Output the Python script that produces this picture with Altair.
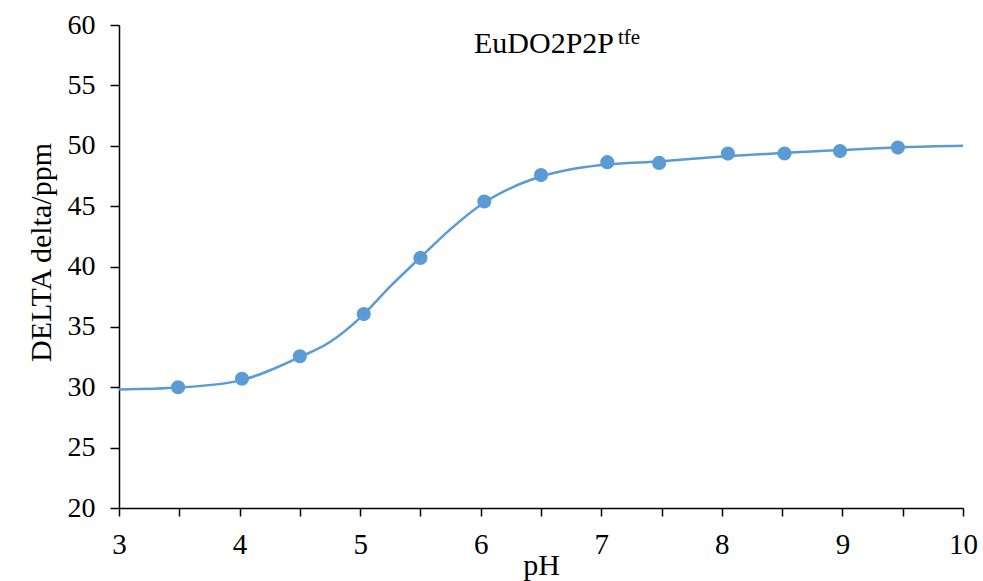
import altair as alt
import pandas as pd

# measured points
ph_points = [3.49, 4.02, 4.50, 5.03, 5.50, 6.03, 6.50, 7.05, 7.48, 8.05, 8.52, 8.98, 9.46]
delta_points = [30.0, 30.7, 32.57, 36.06, 40.71, 45.38, 47.57, 48.64, 48.58, 49.35, 49.36, 49.56, 49.85]

# fitted curve
ph_curve = [3.0, 3.5, 4.0, 4.5, 4.75, 5.0, 5.25, 5.5, 5.75, 6.0, 6.25, 6.5, 6.75, 7.0, 7.5, 8.0, 8.5, 9.0, 9.5, 10.0]
delta_curve = [29.82, 29.98, 30.55, 32.5, 33.75, 35.75, 38.35, 40.75, 43.1, 45.1, 46.5, 47.45, 48.05, 48.4, 48.72, 49.1, 49.4, 49.65, 49.88, 50.0]

x_ticks = [3, 3.5, 4, 4.5, 5, 5.5, 6, 6.5, 7, 7.5, 8, 8.5, 9, 9.5, 10]
y_ticks = [20, 25, 30, 35, 40, 45, 50, 55, 60]

title_main = "EuDO2P2P"
title_sup = "tfe"

BLUE = "#5B9BD5"
FONT = "Liberation Serif"

pts = pd.DataFrame({"pH": ph_points, "delta": delta_points})
crv = pd.DataFrame({"pH": ph_curve, "delta": delta_curve})

xs = alt.Scale(domain=[3, 10], nice=False, zero=False)
ys = alt.Scale(domain=[20, 60], nice=False, zero=False)

x_axis = alt.Axis(
    values=x_ticks, labelExpr="datum.value % 1 == 0 ? format(datum.value, 'd') : ''",
    tickSize=8, labelPadding=14, labelFontSize=29, labelFlush=False,
    title="pH", titleBaseline="alphabetic", titleY=66,
)
y_axis = alt.Axis(
    values=y_ticks, tickSize=9, labelPadding=15, labelFontSize=28, labelFlush=False,
    title="DELTA delta/ppm", titleAngle=270, titleBaseline="alphabetic",
    titleX=-69, titleY=227, titleAlign="center",
)

line = alt.Chart(crv).mark_line(color=BLUE, strokeWidth=2.5, interpolate="monotone").encode(
    x=alt.X("pH:Q", scale=xs, axis=x_axis),
    y=alt.Y("delta:Q", scale=ys, axis=y_axis),
)
points = alt.Chart(pts).mark_point(filled=True, color=BLUE, size=200, opacity=1).encode(
    x=alt.X("pH:Q", scale=xs, axis=x_axis),
    y=alt.Y("delta:Q", scale=ys, axis=y_axis),
)
t1 = alt.Chart(pd.DataFrame({"t": [title_main]})).mark_text(
    font=FONT, fontSize=30, align="left", baseline="alphabetic", color="black"
).encode(text="t:N", x=alt.value(355), y=alt.value(28))
t2 = alt.Chart(pd.DataFrame({"t": [title_sup]})).mark_text(
    font=FONT, fontSize=21, align="left", baseline="alphabetic", color="black"
).encode(text="t:N", x=alt.value(499), y=alt.value(19))

chart = alt.layer(line, points, t1, t2).properties(
    width=844, height=483,
    autosize=alt.AutoSizeParams(type="none"),
    padding={"left": 119, "top": 25, "right": 20, "bottom": 73},
    background="white",
).configure_view(stroke=None).configure_axis(
    grid=False, domainColor="black", domainWidth=1.5, tickColor="black", tickWidth=1.5,
    labelFont=FONT, labelColor="black",
    titleFont=FONT, titleFontSize=30, titleFontWeight="normal", titleColor="black",
)

chart.save("out.html", embed_options={"renderer": "svg", "actions": False})
